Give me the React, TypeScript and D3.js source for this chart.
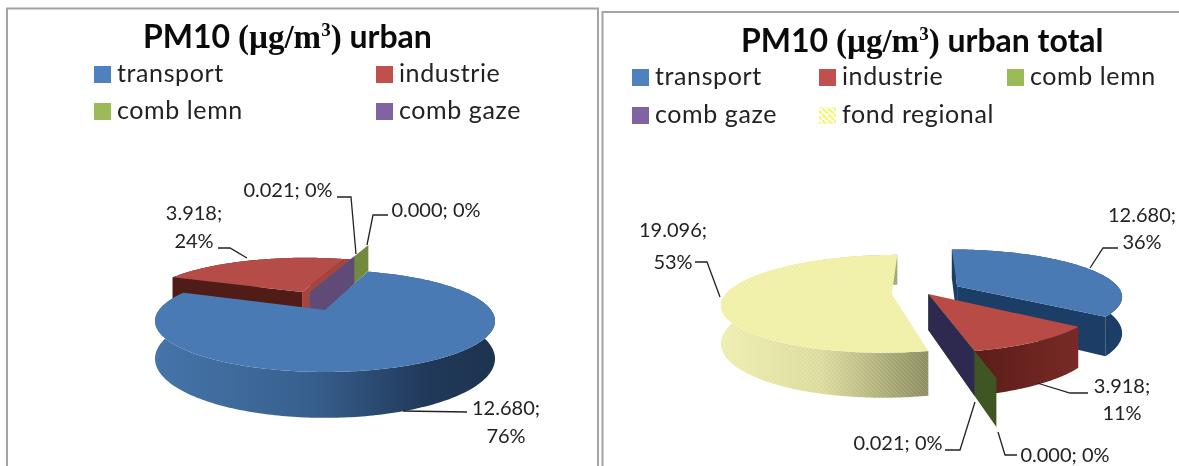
import React from 'react'
import * as d3 from 'd3'

const categories = ['transport', 'industrie', 'comb lemn', 'comb gaze', 'fond regional']
const urbanValues = [12.68, 3.918, 0.0, 0.021]
const totalValues = [12.68, 3.918, 0.0, 0.021, 19.096]

const legendColors = ['#4f81bd', '#c0504d', '#9bbb59', '#8064a2', 'url(#legendHatch)']

type SliceStyle = {
  top: string
  wall: string
  wallHatch?: string
  startWall?: string
  endWall?: string
  off: [number, number]
  reach?: number
  seam?: { color: string; du: number }
}

type PieConfig = {
  id: string
  cx: number
  cy: number
  rx: number
  ry: number
  k: number
  h: number
  startDeg: number
  order: number[]
  slices: SliceStyle[]
}

const urbanPie: PieConfig = {
  id: 'urban',
  cx: 325,
  cy: 310,
  rx: 166,
  ry: 48.6,
  k: 0.2157,
  h: 36,
  startDeg: 18,
  order: [1, 2, 3, 0],
  slices: [
    { top: '#4a7ab4', wall: 'url(#urbanBlue)', off: [0, 0] },
    {
      top: '#b54c48',
      wall: '#4f1c18',
      startWall: '#4f1c18',
      off: [-0.15, -0.4],
      seam: { color: '#a8443f', du: 0.06 },
    },
    { top: '#728a3e', wall: '#728a3e', startWall: '#728a3e', off: [-0.1, -0.4], reach: 1.55 },
    { top: '#5f4a78', wall: '#5f4a78', startWall: '#5f4a78', off: [-0.1, -0.4], reach: 1.1 },
  ],
}

const totalPie: PieConfig = {
  id: 'total',
  cx: 925,
  cy: 294,
  rx: 166,
  ry: 47,
  k: 0.2,
  h: 36,
  startDeg: 0,
  order: [4, 0, 1, 2, 3],
  slices: [
    { top: '#4a7ab4', wall: '#1c3d66', startWall: '#1c3d66', endWall: '#1c3d66', off: [0.2, -0.17] },
    { top: '#b84b45', wall: 'url(#totalRed)', off: [0.02, 0] },
    { top: '#3f5522', wall: '#3f5522', startWall: '#3f5522', off: [0.02, 0], reach: 1.35 },
    { top: '#2e2a4f', wall: '#2e2a4f', startWall: '#2e2a4f', off: [0.02, 0] },
    { top: 'url(#yellowTop)', wall: 'url(#totalYellow)', wallHatch: 'url(#wallHatch)', off: [-0.2, 0] },
  ],
}

function slicePaths(cfg: PieConfig, values: number[]) {
  const start = (cfg.startDeg * Math.PI) / 180
  const arcs = d3.pie<number>().sort(null).startAngle(start).endAngle(start + Math.PI * 2)(values)
  const x = d3.scaleLinear().domain([-1, 1]).range([cfg.cx - cfg.rx, cfg.cx + cfg.rx])
  const y = d3.scaleLinear().domain([-1, 1]).range([cfg.cy - cfg.ry, cfg.cy + cfg.ry])
  const project = (u: number, v: number, drop = 0): [number, number] => {
    const w = 1 / (1 - cfg.k * v)
    return [x(u * w), y(v * w) + drop * cfg.h * w]
  }
  const line = d3.line()

  return cfg.order.map(i => {
    const a = arcs[i]
    const s = cfg.slices[i]
    const r = s.reach ?? 1
    const [ou, ov] = s.off
    const rim = (t: number, drop = 0) => project(ou + r * Math.sin(t), ov - r * Math.cos(t), drop)
    const apex = (drop = 0) => project(ou, ov, drop)
    const n = Math.max(2, Math.ceil(((a.endAngle - a.startAngle) * 180) / Math.PI))
    const ts = d3.range(n + 1).map(j => a.startAngle + ((a.endAngle - a.startAngle) * j) / n)
    const wall = line([...ts.map(t => rim(t)), ...ts.slice().reverse().map(t => rim(t, 1))]) + 'Z'
    const top = line([apex(), ...ts.map(t => rim(t))]) + 'Z'
    const radial = (t: number) => line([apex(), rim(t), rim(t, 1), apex(1)]) + 'Z'
    let seam: string | null = null
    if (s.seam) {
      const t = a.endAngle
      const du = s.seam.du
      const p = (u: number, v: number, d = 0) => project(ou + u, ov + v, d)
      seam = line([
        apex(),
        rim(t),
        p(Math.sin(t) + du, -Math.cos(t)),
        p(du, 0),
        p(du, 0, 1),
        apex(1),
      ]) + 'Z'
    }
    return {
      key: i,
      style: s,
      wall,
      top,
      startPath: radial(a.startAngle),
      endPath: radial(a.endAngle),
      seam,
      hasArea: a.endAngle - a.startAngle > 0.02,
    }
  })
}

const Pie3D = ({ cfg, values }: { cfg: PieConfig; values: number[] }) => (
  <g>
    {slicePaths(cfg, values).map(d => (
      <g key={d.key}>
        {d.hasArea && <path d={d.wall} fill={d.style.wall} />}
        {d.hasArea && d.style.wallHatch && <path d={d.wall} fill={d.style.wallHatch} />}
        {d.style.startWall && <path d={d.startPath} fill={d.style.startWall} />}
        {d.style.endWall && <path d={d.endPath} fill={d.style.endWall} />}
        {d.seam && <path d={d.seam} fill={d.style.seam!.color} />}
        {d.hasArea && <path d={d.top} fill={d.style.top} />}
      </g>
    ))}
  </g>
)

const pct = (v: number, list: number[]) => d3.format('.0%')(v / d3.sum(list))
const num = d3.format('.3f')

const Title = ({ x, y, rest }: { x: number; y: number; rest: string }) => (
  <text x={x} y={y} fontFamily="Lato" fontWeight="700" fontSize={32} fill="#0b0b0b">
    PM10 <tspan fontFamily="Liberation Serif" fontSize={33}>(µg/m</tspan>
    <tspan fontFamily="Liberation Serif" fontSize={19} dy={-12}>3</tspan>
    <tspan fontFamily="Liberation Serif" fontSize={33} dy={12}>)</tspan> {rest}
  </text>
)

const Legend = ({ items }: { items: [number, number, number][] }) => (
  <g>
    {items.map(([i, x, y]) => (
      <g key={i}>
        <rect x={x} y={y - 16} width={17} height={17} fill={legendColors[i]} />
        <text x={x + 23} y={y} fontFamily="Lato" fontSize={25} letterSpacing={0.6} fill="#222">
          {categories[i]}
        </text>
      </g>
    ))}
  </g>
)

const Label = ({ lines, x, y, path }: { lines: string[]; x: number; y: number[]; path: [number, number][] }) => (
  <g>
    <path d={d3.line()(path) ?? ''} fill="none" stroke="#222" strokeWidth={1.3} />
    {lines.map((t, i) => (
      <text key={i} x={x} y={y[i]} textAnchor="middle" fontFamily="Lato" fontSize={20} fill="#222">
        {t}
      </text>
    ))}
  </g>
)

export default function App() {
  const u = urbanValues
  const t = totalValues
  return (
    <svg
      width={1179}
      height={466}
      style={{ position: 'fixed', left: 0, top: 0, background: '#fff', filter: 'blur(0.5px)' }}
    >
      <defs>
        <linearGradient id="urbanBlue" gradientUnits="userSpaceOnUse" x1={157} x2={494} y1={0} y2={0}>
          <stop offset="0" stopColor="#4574a9" />
          <stop offset="0.45" stopColor="#38608f" />
          <stop offset="0.8" stopColor="#21395a" />
          <stop offset="1" stopColor="#1d334f" />
        </linearGradient>
        <linearGradient id="totalRed" gradientUnits="userSpaceOnUse" x1={975} x2={1080} y1={0} y2={0}>
          <stop offset="0" stopColor="#5a1d18" />
          <stop offset="1" stopColor="#7a2a26" />
        </linearGradient>
        <linearGradient id="totalYellow" gradientUnits="userSpaceOnUse" x1={720} x2={925} y1={0} y2={0}>
          <stop offset="0" stopColor="#eeeeb0" />
          <stop offset="0.5" stopColor="#dcdc9f" />
          <stop offset="1" stopColor="#8f8f62" />
        </linearGradient>
        <pattern id="yellowTop" width={4} height={4} patternUnits="userSpaceOnUse">
          <rect width={4} height={4} fill="#f2f2ae" />
          <path d="M0 4L4 0" stroke="#eeeea2" strokeWidth={1} />
        </pattern>
        <pattern id="wallHatch" width={4} height={4} patternUnits="userSpaceOnUse">
          <path d="M0 0L4 4" stroke="#ffffff" strokeOpacity={0.14} strokeWidth={1} />
        </pattern>
        <pattern id="legendHatch" width={6} height={6} patternUnits="userSpaceOnUse">
          <rect width={6} height={6} fill="#fdfde8" />
          <path d="M0 0L6 6" stroke="#f4f47a" strokeWidth={2} />
        </pattern>
      </defs>

      <rect x={7} y={8.5} width={591} height={470} fill="#fff" stroke="#a3a3a3" strokeWidth={2} />
      <rect x={602.5} y={12} width={590} height={470} fill="#fff" stroke="#a3a3a3" strokeWidth={2} />

      <Title x={143} y={48} rest="urban" />
      <Legend items={[[0, 94, 82], [1, 376, 82], [2, 94, 119], [3, 376, 119]]} />
      <Pie3D cfg={urbanPie} values={u} />
      <Label lines={[`${num(u[3])}; ${pct(u[3], u)}`]} x={288} y={[197]} path={[[337, 197], [351, 197], [356, 254]]} />
      <Label lines={[`${num(u[2])}; ${pct(u[2], u)}`]} x={436} y={[217]} path={[[388, 215], [373, 215], [367, 245]]} />
      <Label lines={[`${num(u[1])};`, pct(u[1], u)]} x={194} y={[220, 248]} path={[[218, 248], [230, 248], [247, 258]]} />
      <Label lines={[`${num(u[0])};`, pct(u[0], u)]} x={506} y={[415, 443]} path={[[467, 412], [403, 411]]} />

      <Title x={741} y={52} rest="urban total" />
      <Legend items={[[0, 632, 85], [1, 819, 85], [2, 1007, 85], [3, 632, 123], [4, 819, 123]]} />
      <Pie3D cfg={totalPie} values={t} />
      <Label lines={[`${num(t[0])};`, pct(t[0], t)]} x={1142} y={[222, 249]} path={[[1118, 248], [1103, 248], [1090, 268]]} />
      <Label lines={[`${num(t[1])};`, pct(t[1], t)]} x={1122} y={[393, 420]} path={[[1088, 393], [1070, 393], [1037, 383]]} />
      <Label lines={[`${num(t[3])}; ${pct(t[3], t)}`]} x={898} y={[450]} path={[[945, 450], [960, 450], [975, 402]]} />
      <Label lines={[`${num(t[2])}; ${pct(t[2], t)}`]} x={1065} y={[462]} path={[[1017, 455], [1005, 455], [998, 432]]} />
      <Label lines={[`${num(t[4])};`, pct(t[4], t)]} x={673} y={[237, 269]} path={[[695, 262], [707, 262], [720, 297]]} />
    </svg>
  )
}
